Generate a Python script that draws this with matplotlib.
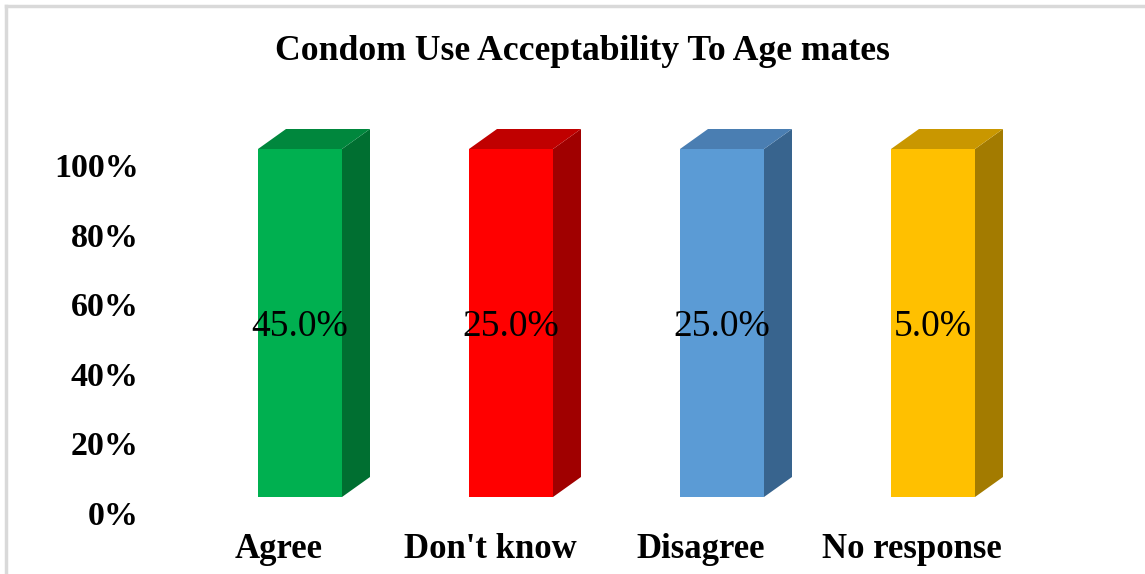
import numpy as np
import matplotlib.pyplot as plt
from matplotlib.patches import Polygon
from matplotlib.lines import Line2D

# survey responses
categories = ['Agree', "Don't know", 'Disagree', 'No response']
shares = [45.0, 25.0, 25.0, 5.0]
bar_total = [100, 100, 100, 100]   # every column is drawn as a full 100% column

front_cols = ['#00B050', '#FF0000', '#5B9BD5', '#FFC000']
top_cols = ['#00873D', '#C00000', '#4A7EB2', '#C99700']
side_cols = ['#006F31', '#A00000', '#38648E', '#A37B00']

plt.rcParams['font.family'] = ['Liberation Serif', 'DejaVu Serif']

fig = plt.figure(figsize=(11.45, 5.74), dpi=100)
W, H = 1145, 574

# plot area: 0% sits at y=513px, 100% at y=165px
y0_px, y100_px = 513, 165
ax = fig.add_axes([194.5 / W, (H - y0_px) / H, 844 / W, (y0_px - y100_px) / H])
ax.set_xlim(-0.5, 3.5)
ax.set_ylim(0, 100)
for s in ax.spines.values():
    s.set_visible(False)

px_per_pct = (y0_px - y100_px) / 100.0
px_per_cat = 211.0
half_w = 42 / px_per_cat          # half width of front face
dx = 28 / px_per_cat              # depth offset
dy = 20 / px_per_pct
lift = 16 / px_per_pct            # front face sits a bit above the floor line

x = np.arange(len(categories))
for i, (v, tot) in enumerate(zip(shares, bar_total)):
    xl, xr = x[i] - half_w, x[i] + half_w
    yb, yt = lift, lift + tot
    front = Polygon([(xl, yb), (xr, yb), (xr, yt), (xl, yt)],
                    closed=True, fc=front_cols[i], ec='none', clip_on=False)
    top = Polygon([(xl, yt), (xr, yt), (xr + dx, yt + dy), (xl + dx, yt + dy)],
                  closed=True, fc=top_cols[i], ec='none', clip_on=False)
    side = Polygon([(xr, yb), (xr + dx, yb + dy), (xr + dx, yt + dy), (xr, yt)],
                   closed=True, fc=side_cols[i], ec='none', clip_on=False)
    for p in (side, top, front):
        ax.add_patch(p)
    ax.text(x[i], (yb + yt) / 2 - 1, '{:.1f}%'.format(v), ha='center', va='center',
            fontsize=27, color='black')
    ax.text(x[i] - 0.1, -37 / px_per_pct, categories[i], ha='center', va='center',
            fontsize=25, fontweight='bold', clip_on=False)

ax.set_yticks(np.arange(0, 101, 20))
ax.set_yticklabels(['{}%'.format(t) for t in range(0, 101, 20)],
                   fontsize=24.5, fontweight='bold')
ax.tick_params(axis='y', length=0, pad=40)
ax.set_xticks([])

fig.text(582 / W, 1 - 52 / H, 'Condom Use Acceptability To Age mates',
         ha='center', va='center', fontsize=25.7, fontweight='bold')

# light frame along the top and left edges
fig.add_artist(Line2D([6 / W, 1], [1 - 6 / H, 1 - 6 / H], color='#D9D9D9', lw=2.5))
fig.add_artist(Line2D([6 / W, 6 / W], [0, 1 - 6 / H], color='#D9D9D9', lw=2.5))

fig.savefig('out.png', dpi=100, facecolor='white')
